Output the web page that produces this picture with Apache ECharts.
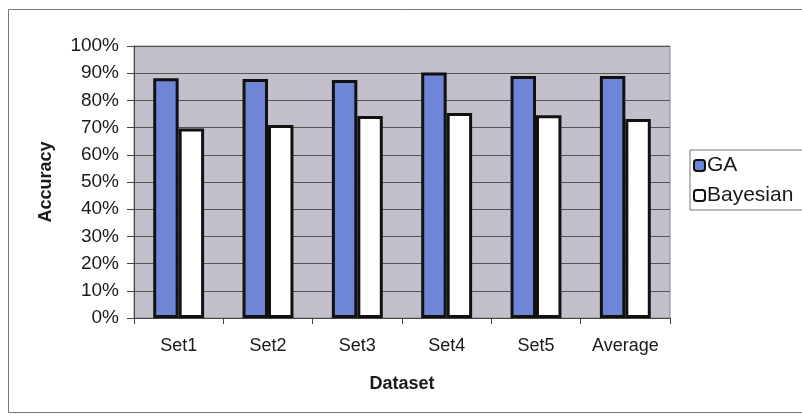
<!DOCTYPE html>
<html>
<head>
<meta charset="utf-8">
<script src="https://cdn.jsdelivr.net/npm/echarts@6/dist/echarts.min.js"></script>
<style>
  html, body { margin: 0; padding: 0; background: #fff; }
  #chart { width: 802px; height: 415px; }
</style>
</head>
<body>
<div id="chart"></div>
<script>
// values (percent)
var categories = ['Set1', 'Set2', 'Set3', 'Set4', 'Set5', 'Average'];
var gaValues = [88.1, 87.9, 87.5, 90.3, 89.0, 89.0];
var bayesValues = [69.7, 71.0, 74.3, 75.4, 74.5, 73.2];

var myChart = echarts.init(document.getElementById('chart'));
var font = 'Liberation Sans, Arial, sans-serif';

myChart.setOption({
    animation: false,
    textStyle: { fontFamily: font },
    graphic: [{
        type: 'rect',
        shape: { x: 8.5, y: 9.5, width: 800, height: 403 },
        style: { fill: 'none', stroke: '#777', lineWidth: 1 },
        silent: true
    }],
    grid: {
        left: 134, right: 132, top: 46, bottom: 97,
        show: true,
        backgroundColor: '#c3c0cc',
        borderColor: '#8a8a8a',
        borderWidth: 1
    },
    legend: {
        orient: 'vertical',
        left: 690, top: 150,
        padding: [5, 20, 4, 3],
        itemWidth: 11, itemHeight: 11,
        itemGap: 9,
        borderColor: '#777', borderWidth: 1,
        textStyle: { fontSize: 21, color: '#1a1a1a', padding: [0, 0, 0, -3] },
        data: ['GA', 'Bayesian']
    },
    xAxis: {
        type: 'category',
        data: categories,
        name: 'Dataset',
        nameLocation: 'middle',
        nameGap: 57,
        nameTextStyle: { fontSize: 18, fontWeight: 'bold', color: '#1a1a1a' },
        axisLine: { lineStyle: { color: '#444' } },
        axisTick: { show: true, length: 6, lineStyle: { color: '#444' } },
        axisLabel: { fontSize: 18, color: '#1a1a1a', margin: 19 }
    },
    yAxis: {
        type: 'value',
        min: 0, max: 100, interval: 10,
        name: 'Accuracy',
        nameLocation: 'middle',
        nameGap: 79,
        nameTextStyle: { fontSize: 18, fontWeight: 'bold', color: '#1a1a1a' },
        axisLine: { show: true, lineStyle: { color: '#444' } },
        axisTick: { show: true, length: 7, lineStyle: { color: '#444' } },
        axisLabel: { fontSize: 19, color: '#1a1a1a', formatter: '{value}%', margin: 15 },
        splitLine: { lineStyle: { color: '#555', width: 1 } }
    },
    series: [{
        name: 'GA',
        type: 'bar',
        data: gaValues,
        barGap: '0%',
        barCategoryGap: '43%',
        itemStyle: { color: '#6f86d6', borderColor: '#111', borderWidth: 3 }
    }, {
        name: 'Bayesian',
        type: 'bar',
        data: bayesValues,
        itemStyle: { color: '#ffffff', borderColor: '#111', borderWidth: 3 }
    }]
});
</script>
</body>
</html>
